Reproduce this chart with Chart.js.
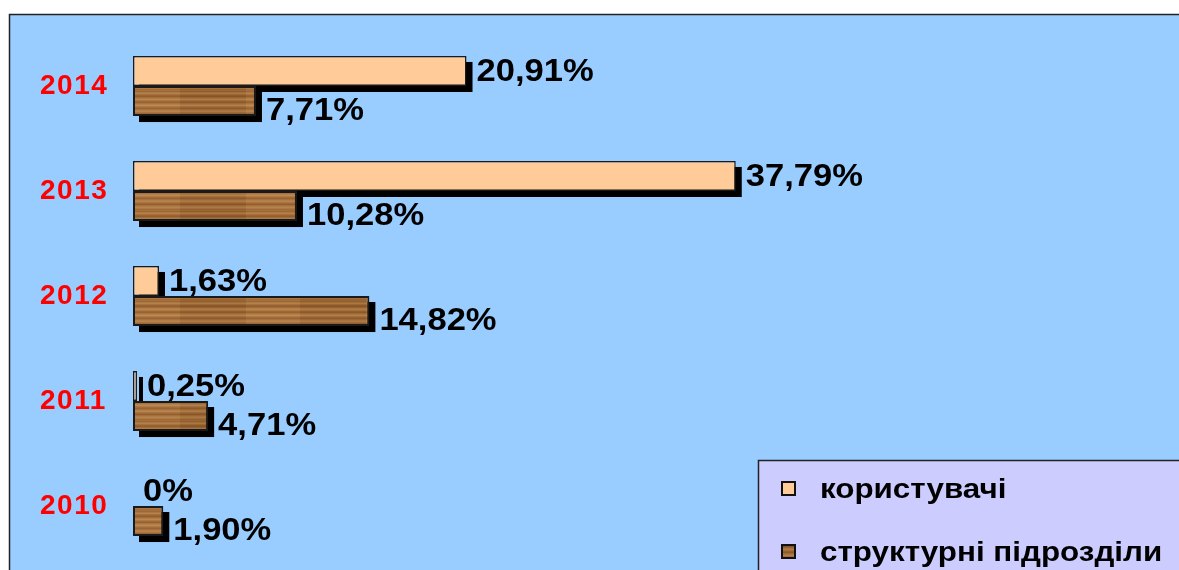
<!DOCTYPE html>
<html>
<head>
<meta charset="utf-8">
<script src="https://cdn.jsdelivr.net/npm/chart.js@4/dist/chart.umd.min.js"></script>
<style>
  html, body { margin: 0; padding: 0; background: #fff; }
  canvas { display: block; }
</style>
</head>
<body>
<canvas id="chart" width="1179" height="570"></canvas>
<script>
// ── Data ──
const years = ['2014', '2013', '2012', '2011', '2010'];
const users = [20.91, 37.79, 1.63, 0.25, 0];          // користувачі
const units = [7.71, 10.28, 14.82, 4.71, 1.90];       // структурні підрозділи
const seriesNames = ['користувачі', 'структурні підрозділи'];

const FONT = "'Liberation Sans', Arial, sans-serif";

// ── Wood-like texture for the brown series (horizontal grain) ──
function makeWood() {
    const W = 120, H = 30;
    const c = document.createElement('canvas');
    c.width = W; c.height = H;
    const g = c.getContext('2d');
    // one tone per row gives the horizontal grain
    const rows = ['#a06a39', '#98632f', '#a9743f', '#b37e49', '#a36d3b', '#935e2d',
                  '#8c582a', '#9d6836', '#ad7843', '#b8844f', '#a9743f', '#9a6433',
                  '#915d2d', '#a46f3c', '#b27d48', '#bb8752', '#aa7541', '#9c6735',
                  '#945d2f', '#a26c3a', '#b07b46', '#b5824c', '#a5703d', '#986232',
                  '#8e572a', '#9f6a37', '#ad7844', '#b4804a', '#a8733f', '#9b6635'];
    for (let y = 0; y < H; y++) {
        g.fillStyle = rows[y];
        g.fillRect(0, y, W, 1);
    }
    // soft lighter/darker patches along the grain
    for (let x = 0; x < W; x += 6) {
        const k = Math.sin(x / 19);
        g.fillStyle = k > 0 ? 'rgba(205,155,100,0.10)' : 'rgba(100,60,20,0.10)';
        g.fillRect(x, 0, 6, H);
    }
    return g.createPattern(c, 'repeat');
}
const wood = makeWood();
const beige = '#ffcc99';

function fmt(v) {
    return v === 0 ? '0%' : v.toFixed(2).replace('.', ',') + '%';
}

// draw text slightly stretched horizontally, like the original rendering
function wideText(ctx, text, x, y, sx) {
    ctx.save();
    ctx.translate(x, y);
    ctx.scale(sx, 1);
    ctx.fillText(text, 0, 0);
    ctx.restore();
}

// ── Background panel ──
const panelPlugin = {
    id: 'panel',
    beforeDraw(chart) {
        const ctx = chart.ctx;
        ctx.save();
        ctx.fillStyle = '#ffffff';
        ctx.fillRect(0, 0, chart.width, chart.height);
        ctx.fillStyle = '#99ccff';
        ctx.fillRect(9, 14, chart.width, chart.height);
        ctx.strokeStyle = '#222';
        ctx.lineWidth = 1.5;
        ctx.strokeRect(9.5, 14.5, chart.width + 10, chart.height + 10);
        ctx.restore();
        // the year labels in the original are a little wider
        ctx.letterSpacing = '1.5px';
    }
};

// ── Black drop shadows behind the bars ──
const shadowPlugin = {
    id: 'barShadow',
    beforeDatasetsDraw(chart) {
        const ctx = chart.ctx;
        ctx.save();
        ctx.fillStyle = '#000';
        chart.data.datasets.forEach((ds, i) => {
            chart.getDatasetMeta(i).data.forEach(el => {
                const p = el.getProps(['x', 'y', 'base', 'height'], true);
                const w = Math.abs(p.x - p.base);
                if (w < 0.5) return;
                ctx.fillRect(Math.min(p.x, p.base) + 6, p.y - p.height / 2 + 6, w, p.height);
            });
        });
        ctx.restore();
    }
};

// ── Value labels ──
const valuePlugin = {
    id: 'values',
    afterDatasetsDraw(chart) {
        const ctx = chart.ctx;
        ctx.save();
        ctx.letterSpacing = '0px';
        ctx.fillStyle = '#000';
        ctx.font = 'bold 32px ' + FONT;
        ctx.textBaseline = 'middle';
        ctx.textAlign = 'left';
        chart.data.datasets.forEach((ds, i) => {
            chart.getDatasetMeta(i).data.forEach((el, j) => {
                const dy = i === 0 ? 1 : 10;
                wideText(ctx, fmt(ds.data[j]), el.x + 10, el.y + dy, 1.08);
            });
        });
        ctx.restore();
    }
};

// ── Legend box ──
const legendPlugin = {
    id: 'legendBox',
    afterDraw(chart) {
        const ctx = chart.ctx;
        ctx.save();
        ctx.letterSpacing = '0px';
        ctx.fillStyle = '#ccccff';
        ctx.fillRect(758, 460, 440, 130);
        ctx.strokeStyle = '#222';
        ctx.lineWidth = 1.5;
        ctx.strokeRect(758.5, 460.5, 440, 130);
        const rows = [488, 551];
        ctx.font = 'bold 28px ' + FONT;
        ctx.textBaseline = 'middle';
        chart.data.datasets.forEach((ds, i) => {
            ctx.fillStyle = ds.backgroundColor;
            ctx.fillRect(782, rows[i] - 6, 13, 13);
            ctx.strokeStyle = '#111';
            ctx.lineWidth = 2;
            ctx.strokeRect(782, rows[i] - 6, 13, 13);
            ctx.fillStyle = '#000';
            wideText(ctx, ds.label, 820, rows[i] + 2, 1.12);
        });
        ctx.restore();
    }
};

new Chart(document.getElementById('chart'), {
    type: 'bar',
    data: {
        labels: years,
        datasets: [
            { label: seriesNames[0], data: users, backgroundColor: beige,
              borderColor: '#1a1a1a', borderWidth: 1.5, borderSkipped: false },
            { label: seriesNames[1], data: units, backgroundColor: wood,
              borderColor: '#1a1a1a', borderWidth: 2, borderSkipped: false }
        ]
    },
    options: {
        indexAxis: 'y',
        responsive: false,
        animation: false,
        devicePixelRatio: 1,
        layout: { padding: { left: 40, right: 89, top: 33.5, bottom: 11.5 } },
        datasets: { bar: { categoryPercentage: 0.572, barPercentage: 1.0 } },
        plugins: { legend: { display: false }, tooltip: { enabled: false } },
        scales: {
            x: { display: false, min: 0, max: 60 },
            y: {
                grid: { display: false, drawTicks: false },
                border: { display: false },
                ticks: {
                    color: '#ff0000', padding: 0, crossAlign: 'far',
                    font: { family: FONT, size: 28, weight: 'bold', lineHeight: 0.6 }
                },
                afterFit(s) { s.width = 93; }
            }
        }
    },
    plugins: [panelPlugin, shadowPlugin, valuePlugin, legendPlugin]
});
</script>
</body>
</html>
